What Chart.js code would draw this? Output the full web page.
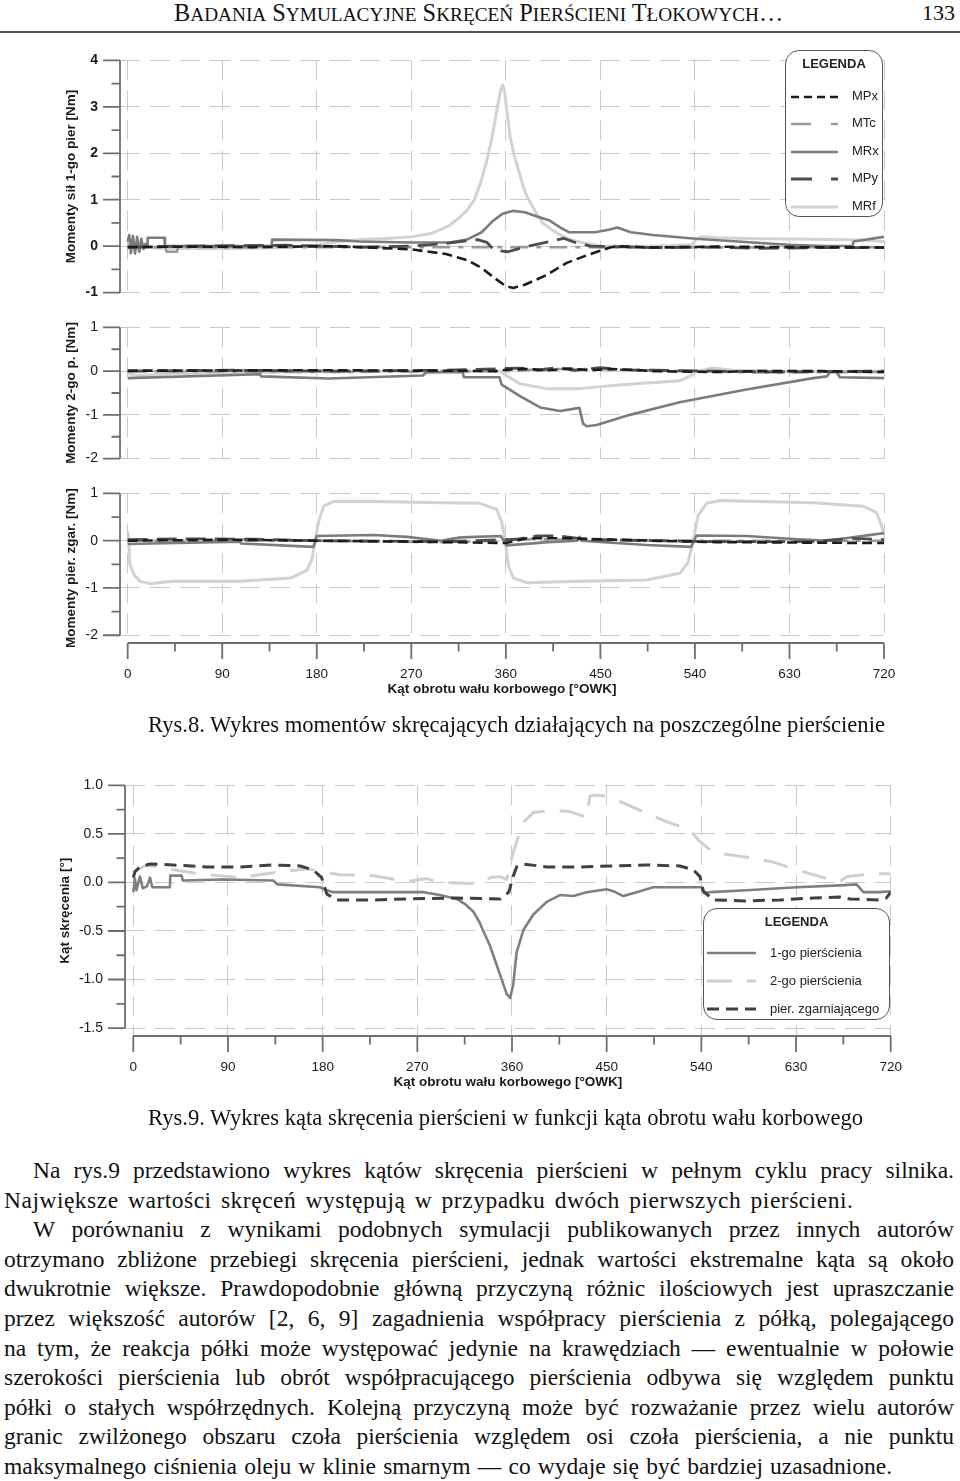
<!DOCTYPE html>
<html lang="pl">
<head>
<meta charset="utf-8">
<title>Badania symulacyjne skręceń pierścieni tłokowych – Rys.8, Rys.9</title>
<script src="https://cdn.jsdelivr.net/npm/chart.js@4.4.1/dist/chart.umd.min.js"></script>
<style>
  html, body { margin: 0; padding: 0; background: #fff; }
  body { width: 960px; height: 1481px; position: relative; overflow: hidden;
         font-family: "Liberation Serif", "Times New Roman", serif; color: #111; }
  canvas { position: absolute; left: 0; }
  .hdr { position: absolute; left: 174px; top: 1px; font-size: 24.3px; line-height: 24px; white-space: nowrap; }
  .hdr small { font-size: 19.3px; }
  .pg { position: absolute; right: 5px; top: 2px; font-size: 22px; line-height: 22px; }
  .rule { position: absolute; left: 0; top: 30.5px; width: 960px; height: 2px; background: #555; }
  .cap { position: absolute; left: 148px; font-size: 22.6px; line-height: 28.7px; white-space: nowrap; }
  .body { position: absolute; left: 4px; top: 1156px; width: 950px; font-size: 23.5px; line-height: 29.6px; }
  .ln { white-space: nowrap; }
  .j { text-align: justify; text-align-last: justify; }
  .ind { padding-left: 29px; }
  .legend { position: absolute; box-sizing: border-box; border: 1.5px solid #555; border-radius: 14px;
            background: #fff; font-family: "Liberation Sans", Arial, sans-serif; font-size: 13px; color: #222; }
  .legend .t { position: absolute; left: 0; right: 0; text-align: center; font-weight: bold; line-height: 16px; }
  .legend .it { position: absolute; line-height: 16px; white-space: nowrap; }
  .legend svg { position: absolute; left: 0; top: 0; }
</style>
</head>
<body>

<div class="hdr">B<small>ADANIA</small> S<small>YMULACYJNE</small> S<small>KRĘCEŃ</small> P<small>IERŚCIENI</small> T<small>ŁOKOWYCH</small>…</div>
<div class="pg">133</div>
<div class="rule"></div>

<canvas id="c1"></canvas>
<canvas id="c2"></canvas>
<canvas id="c3"></canvas>
<canvas id="c4"></canvas>

<div class="legend" style="left:785px;top:50px;width:98px;height:167px">
  <svg width="98" height="167">
    <line x1="5" x2="52" y1="46" y2="46" stroke="#1c1c1c" stroke-width="2.6" stroke-dasharray="8,5"/>
    <line x1="5" x2="52" y1="73" y2="73" stroke="#9a9a9a" stroke-width="2.6" stroke-dasharray="20,20,7,20"/>
    <line x1="5" x2="52" y1="101" y2="101" stroke="#7c7c7c" stroke-width="2.6"/>
    <line x1="5" x2="52" y1="128" y2="128" stroke="#4d4d4d" stroke-width="2.8" stroke-dasharray="21,19,7,20"/>
    <line x1="5" x2="52" y1="156" y2="156" stroke="#d2d2d2" stroke-width="3"/>
  </svg>
  <div class="t" style="top:5px">LEGENDA</div>
  <div class="it" style="left:66px;top:37px">MPx</div>
  <div class="it" style="left:66px;top:64px">MTc</div>
  <div class="it" style="left:66px;top:92px">MRx</div>
  <div class="it" style="left:66px;top:119px">MPy</div>
  <div class="it" style="left:66px;top:147px">MRf</div>
</div>

<div class="legend" style="left:703px;top:908px;width:187px;height:112px">
  <svg width="187" height="112">
    <line x1="3" x2="52" y1="44" y2="44" stroke="#7f7f7f" stroke-width="2.6"/>
    <line x1="3" x2="52" y1="72" y2="72" stroke="#cfcfcf" stroke-width="3" stroke-dasharray="25,15"/>
    <line x1="3" x2="52" y1="100" y2="100" stroke="#404040" stroke-width="3" stroke-dasharray="12,7"/>
  </svg>
  <div class="t" style="top:5px">LEGENDA</div>
  <div class="it" style="left:66px;top:36px">1-go pierścienia</div>
  <div class="it" style="left:66px;top:64px">2-go pierścienia</div>
  <div class="it" style="left:66px;top:92px">pier. zgarniającego</div>
</div>

<div class="cap" style="top:711px">Rys.8. Wykres momentów skręcających działających na poszczególne pierścienie</div>
<div class="cap" style="top:1104px">Rys.9. Wykres kąta skręcenia pierścieni w funkcji kąta obrotu wału korbowego</div>

<div class="body">
  <div class="ln j ind">Na rys.9 przedstawiono wykres kątów skręcenia pierścieni w pełnym cyklu pracy silnika.</div>
  <div class="ln" style="letter-spacing:0.5px;word-spacing:3px">Największe wartości skręceń występują w przypadku dwóch pierwszych pierścieni.</div>
  <div class="ln j ind">W porównaniu z wynikami podobnych symulacji publikowanych przez innych autorów</div>
  <div class="ln j">otrzymano zbliżone przebiegi skręcenia pierścieni, jednak wartości ekstremalne kąta są około</div>
  <div class="ln j">dwukrotnie większe. Prawdopodobnie główną przyczyną różnic ilościowych jest upraszczanie</div>
  <div class="ln j">przez większość autorów [2, 6, 9] zagadnienia współpracy pierścienia z półką, polegającego</div>
  <div class="ln j">na tym, że reakcja półki może występować jedynie na krawędziach — ewentualnie w połowie</div>
  <div class="ln j">szerokości pierścienia lub obrót współpracującego pierścienia odbywa się względem punktu</div>
  <div class="ln j">półki o stałych współrzędnych. Kolejną przyczyną może być rozważanie przez wielu autorów</div>
  <div class="ln j">granic zwilżonego obszaru czoła pierścienia względem osi czoła pierścienia, a nie punktu</div>
  <div class="ln" style="word-spacing:1.3px">maksymalnego ciśnienia oleju w klinie smarnym — co wydaje się być bardziej uzasadnione.</div>
</div>

<script>
// ---- ticks ----
const angleTicks = [0, 90, 180, 270, 360, 450, 540, 630, 720];
const moment1Ticks = [-1, 0, 1, 2, 3, 4];
const moment23Ticks = [-2, -1, 0, 1];
const twistTicks = [-1.5, -1.0, -0.5, 0.0, 0.5, 1.0];

// ---- Rys.8, panel 1: momenty sił 1-go pierścienia [Nm] vs kąt [°OWK] ----
const p1MPx = [[0,-0.02],[60,-0.01],[120,-0.02],[200,0.0],[221,-0.02],[270,-0.07],[303,-0.17],[323,-0.3],[337,-0.47],[350,-0.7],[360,-0.86],[367,-0.9],[378,-0.83],[398,-0.63],[418,-0.36],[439,-0.18],[459,-0.03],[466,0.0],[500,-0.03],[560,-0.01],[620,-0.02],[720,-0.03]];
const p1MTc = [[0,-0.02],[36,-0.02],[37,-0.12],[47,-0.12],[48,-0.02],[180,-0.02],[360,-0.02],[540,-0.03],[720,-0.02]];
const p1MRx = [[0,0.1],[1.5,0.24],[3,-0.15],[5,0.22],[7,-0.16],[9,0.2],[11,-0.12],[13,0.16],[15,-0.06],[17,0.05],[18.5,0.0],[19,0.18],[35,0.18],[35.5,0.0],[137,0.0],[137.5,0.14],[200,0.13],[221,0.1],[270,0.08],[306,0.08],[323,0.14],[337,0.3],[347,0.53],[357,0.7],[367,0.76],[378,0.73],[391,0.63],[401,0.56],[412,0.4],[420,0.3],[445,0.3],[459,0.36],[466,0.4],[479,0.3],[500,0.24],[541,0.16],[595,0.08],[629,0.03],[663,0.0],[690,0.01],[691,0.1],[720,0.2]];
const p1MPy = [[0,-0.02],[60,0.0],[150,0.02],[221,-0.02],[270,0.0],[303,0.06],[333,0.14],[342,0.08],[349,-0.09],[362,-0.12],[378,-0.02],[398,0.08],[415,0.17],[426,0.08],[441,0.0],[500,-0.03],[560,-0.02],[600,-0.05],[660,-0.03],[720,-0.03]];
const p1MRf = [[0,0.05],[8,-0.02],[40,-0.05],[100,-0.05],[150,-0.03],[180,0.02],[200,0.1],[221,0.14],[250,0.17],[270,0.2],[290,0.28],[306,0.44],[315,0.6],[323,0.77],[330,1.0],[336,1.37],[342,1.85],[347,2.36],[352,3.0],[355,3.35],[357,3.47],[359,3.3],[361,2.9],[364,2.36],[368,1.95],[373,1.56],[377,1.25],[381,1.03],[388,0.75],[395,0.5],[404,0.35],[412,0.24],[422,0.14],[432,0.08],[452,0.0],[500,0.0],[537,0.03],[541,0.14],[546,0.2],[560,0.18],[600,0.16],[650,0.15],[700,0.13],[720,0.1]];

// ---- Rys.8, panel 2: momenty 2-go pierścienia [Nm] ----
const p2MPx = [[0,0.01],[180,0.02],[300,0.01],[350,0.0],[360,0.03],[380,0.05],[400,0.02],[420,0.06],[440,0.02],[460,0.05],[480,0.03],[500,0.0],[560,-0.02],[600,0.0],[660,0.0],[720,-0.02]];
const p2MTc = [[0,0.0],[200,-0.02],[360,0.0],[400,0.05],[450,0.05],[520,0.0],[600,-0.03],[720,-0.02]];
const p2MRx = [[0,-0.16],[126,-0.07],[127,-0.12],[192,-0.17],[281,-0.1],[284,-0.03],[319,-0.02],[320,-0.14],[354,-0.14],[356,-0.31],[373.5,-0.57],[392.6,-0.83],[411.6,-0.91],[430,-0.84],[433.5,-1.2],[437,-1.26],[446.5,-1.23],[478,-1.0],[525.5,-0.71],[589,-0.42],[652.6,-0.16],[665.6,-0.12],[668.6,-0.02],[675,-0.02],[678,-0.14],[720,-0.16]];
const p2MPy = [[0,0.0],[100,0.02],[200,0.0],[300,0.02],[360,0.06],[375,0.07],[390,0.02],[410,0.08],[425,0.02],[450,0.08],[470,0.03],[500,0.02],[560,0.0],[620,-0.02],[720,0.0]];
const p2MRf = [[0,-0.06],[10,-0.1],[40,-0.06],[126,-0.03],[200,0.0],[280,0.0],[355,0.0],[357,-0.05],[373.5,-0.29],[398.8,-0.4],[430.6,-0.4],[462,-0.33],[494,-0.27],[525.5,-0.22],[535,-0.12],[541.6,0.0],[557.6,0.07],[576.7,0.02],[620,0.0],[720,0.0]];

// ---- Rys.8, panel 3: momenty pierścienia zgarniającego [Nm] ----
const p3MPx = [[0,0.0],[100,0.02],[180,0.0],[270,-0.02],[360,-0.05],[380,0.05],[420,0.05],[500,0.0],[560,-0.03],[720,-0.05]];
const p3MTc = [[0,0.0],[180,0.0],[300,-0.03],[360,0.0],[380,0.03],[450,0.02],[540,0.0],[650,0.0],[720,0.0]];
const p3MRx = [[0,-0.07],[106.8,-0.02],[108,-0.06],[176.8,-0.13],[180,0.1],[234,0.12],[266,0.08],[298,0.0],[317,0.07],[355,0.1],[361,-0.1],[400,-0.03],[428,0.0],[430,0.08],[432,0.0],[494,-0.09],[536.5,-0.13],[541.5,0.11],[589,0.1],[630,0.04],[665.6,0.0],[720,0.16]];
const p3MPy = [[0,0.02],[50,0.04],[120,0.03],[180,0.0],[300,-0.02],[370,0.03],[390,0.1],[410,0.1],[440,0.02],[560,-0.02],[650,-0.02],[690,0.05],[720,0.02]];
const p3MRf = [[0,0.2],[1,0.0],[2,-0.5],[6.4,-0.73],[12,-0.86],[21,-0.91],[43,-0.86],[107,-0.86],[155,-0.79],[170.6,-0.63],[175.4,-0.4],[178.5,0.0],[181.7,0.4],[186.5,0.73],[196,0.83],[234,0.83],[300,0.8],[335.4,0.79],[351.4,0.66],[356,0.4],[359.3,0.0],[362.4,-0.53],[367.2,-0.79],[380,-0.89],[430.6,-0.86],[494,-0.83],[525.5,-0.69],[533.5,-0.46],[538.3,0.0],[543,0.53],[551,0.79],[563.6,0.85],[652.6,0.8],[700,0.73],[712.7,0.6],[717.5,0.33],[720,0.13]];

// ---- Rys.9: kąt skręcenia [°] ----
const ring1 = [[0,-0.1],[1.5,0.04],[3,-0.08],[6.3,0.06],[9,-0.06],[13,-0.04],[15.9,0.05],[18,-0.05],[34.8,-0.05],[35.2,0.07],[46,0.07],[47,0.02],[85.5,0.03],[133,0.02],[136.9,-0.02],[177.5,-0.05],[183.8,-0.08],[190,-0.1],[275.7,-0.1],[291.5,-0.13],[307.4,-0.17],[315,-0.22],[323.2,-0.3],[329.6,-0.42],[332.7,-0.5],[339,-0.65],[342.2,-0.75],[348.6,-0.95],[355,-1.15],[358.2,-1.19],[361.2,-1.05],[364.4,-0.72],[370.8,-0.49],[380.3,-0.33],[393,-0.2],[405.6,-0.13],[418.3,-0.14],[431,-0.1],[450,-0.07],[456.3,-0.09],[465.8,-0.14],[478.5,-0.1],[494.3,-0.05],[540.3,-0.05],[542.5,-0.11],[548.2,-0.1],[583,-0.08],[630.6,-0.05],[671.8,-0.03],[687.6,-0.02],[694,-0.1],[709.8,-0.1],[720,-0.09]];
const ring2 = [[0,0.11],[12.7,0.18],[38,0.13],[69.7,0.08],[101.4,0.05],[133,0.1],[164.7,0.14],[180.5,0.11],[196.4,0.08],[228,0.07],[260,0.01],[279,0.04],[291.5,0.0],[323.2,-0.01],[340,0.05],[348.6,0.06],[355,0.03],[359.7,0.26],[364.4,0.42],[370.8,0.62],[380.3,0.72],[396.1,0.74],[415.1,0.73],[431,0.67],[434.1,0.89],[437.3,0.9],[450,0.89],[472.2,0.79],[503.8,0.64],[529.2,0.54],[538.7,0.42],[551.3,0.31],[583.1,0.26],[608.4,0.21],[630.6,0.13],[652.8,0.06],[671.8,0.01],[678.2,0.06],[694,0.08],[713,0.09],[720,0.09]];
const ring3 = [[0,0.05],[1.5,0.11],[6.3,0.16],[15.8,0.19],[38,0.18],[69.7,0.16],[101.4,0.16],[133,0.18],[158.4,0.17],[171,0.13],[179,0.05],[184,-0.12],[193.5,-0.18],[228.3,-0.18],[260,-0.17],[307.4,-0.16],[349,-0.17],[357,-0.1],[361,0.06],[364.4,0.16],[370.7,0.19],[393,0.16],[424.6,0.16],[456.3,0.17],[488,0.18],[519.7,0.17],[532.4,0.13],[538.7,0.06],[541.9,-0.09],[551.4,-0.18],[583,-0.19],[614.8,-0.18],[646.5,-0.16],[671.8,-0.15],[681.3,-0.17],[709.8,-0.18],[716,-0.16],[720,-0.1]];

const sans = '"Liberation Sans", Arial, sans-serif';
const gridColor = '#c9c9c9';
const gridDash = [20, 10];

const momentStyle = {
  MPx: { borderColor: '#1c1c1c', borderWidth: 2.6, borderDash: [10, 5] },
  MTc: { borderColor: '#9a9a9a', borderWidth: 2.6, borderDash: [18, 8, 5, 8] },
  MRx: { borderColor: '#7c7c7c', borderWidth: 2.6, borderDash: [] },
  MPy: { borderColor: '#4d4d4d', borderWidth: 2.8, borderDash: [20, 9] },
  MRf: { borderColor: '#d2d2d2', borderWidth: 3, borderDash: [] }
};

function pts(arr) { return arr.map(p => ({ x: p[0], y: p[1] })); }

// axis lines sit apart from the plot, with major + minor tick marks
const detachedAxes = {
  id: 'detachedAxes',
  afterDraw(chart) {
    const { ctx, chartArea, scales: { x, y } } = chart;
    const yv = y.ticks.map(t => t.value);
    ctx.save();
    ctx.strokeStyle = '#6e6e6e';
    ctx.lineWidth = 1.8;
    ctx.setLineDash([]);
    ctx.beginPath();
    const L = chartArea.left;
    ctx.moveTo(L, y.getPixelForValue(yv[yv.length - 1]));
    ctx.lineTo(L, y.getPixelForValue(yv[0]));
    yv.forEach((v, i) => {
      const py = y.getPixelForValue(v);
      ctx.moveTo(L, py); ctx.lineTo(L - 17, py);
      if (i > 0) {
        const pm = y.getPixelForValue((v + yv[i - 1]) / 2);
        ctx.moveTo(L, pm); ctx.lineTo(L - 8.5, pm);
      }
    });
    if (chart.options.plugins.detachedAxes.showX) {
      const B = chartArea.bottom;
      ctx.moveTo(x.getPixelForValue(0), B);
      ctx.lineTo(x.getPixelForValue(720), B);
      angleTicks.forEach((v, i) => {
        const px = x.getPixelForValue(v);
        ctx.moveTo(px, B); ctx.lineTo(px, B + 16);
        if (i > 0) {
          const pm = x.getPixelForValue(v - 45);
          ctx.moveTo(pm, B); ctx.lineTo(pm, B + 8.5);
        }
      });
    }
    ctx.stroke();
    ctx.restore();
  }
};

function makeChart(id, o) {
  const canvas = document.getElementById(id);
  const padTop = 20, padBottom = 20;
  const xH = o.xTitle ? 54 : 0;
  canvas.width = 960;
  canvas.height = Math.round(o.bottom - o.top + padTop + xH + padBottom);
  canvas.style.top = (o.top - padTop) + 'px';
  return new Chart(canvas, {
    type: 'line',
    data: {
      datasets: o.series.map(s => Object.assign({
        label: s.label,
        data: pts(s.data),
        pointRadius: 0,
        tension: 0,
        fill: false,
        borderJoinStyle: 'round'
      }, s.style))
    },
    options: {
      responsive: false,
      animation: false,
      events: [],
      layout: { padding: { top: padTop, bottom: padBottom, left: 0, right: 960 - o.right } },
      plugins: {
        legend: { display: false },
        tooltip: { enabled: false },
        detachedAxes: { showX: !!o.xTitle }
      },
      scales: {
        x: {
          type: 'linear', min: o.xMin, max: 720,
          afterBuildTicks: s => { s.ticks = angleTicks.map(v => ({ value: v })); },
          afterFit: s => { s.height = xH; },
          grid: { color: gridColor, lineWidth: 1, drawTicks: false },
          border: { display: false, dash: gridDash },
          ticks: { display: !!o.xTitle, padding: 23, color: '#1a1a1a', autoSkip: false, maxRotation: 0,
                   font: { family: sans, size: 13.5 } },
          title: { display: !!o.xTitle, text: o.xTitle || '', padding: 0, color: '#1a1a1a',
                   font: { family: sans, size: 13.5, weight: 'bold' } }
        },
        y: {
          type: 'linear', min: o.yMin, max: o.yMax,
          afterBuildTicks: s => { s.ticks = o.yTicks.map(v => ({ value: v })); },
          afterFit: s => { s.width = o.left; },
          grid: { color: gridColor, lineWidth: 1, drawTicks: false },
          border: { display: false, dash: gridDash },
          ticks: { padding: o.labelPad, color: '#1a1a1a', callback: o.fmt,
                   font: { family: sans, size: 14, weight: o.boldTicks ? 'bold' : 'normal' } },
          title: { display: true, text: o.yTitle, padding: { top: o.titleX - 8.1, bottom: 0 }, color: '#1a1a1a',
                   font: { family: sans, size: 13.5, weight: 'bold' } }
        }
      }
    },
    plugins: [detachedAxes]
  });
}

function momentSeries(mpx, mtc, mrx, mpy, mrf) {
  return [
    { label: 'MPx', data: mpx, style: momentStyle.MPx },
    { label: 'MPy', data: mpy, style: momentStyle.MPy },
    { label: 'MRx', data: mrx, style: momentStyle.MRx },
    { label: 'MTc', data: mtc, style: momentStyle.MTc },
    { label: 'MRf', data: mrf, style: momentStyle.MRf }
  ];
}

const intFmt = v => String(v);
const fig1 = { left: 120, right: 884, xMin: -7.33, labelPad: 22, titleX: 71.7, fmt: intFmt };

makeChart('c1', Object.assign({}, fig1, {
  top: 50, bottom: 302.7, yMin: -1, yMax: 4, yTicks: moment1Ticks, boldTicks: true,
  yTitle: 'Momenty sił 1-go pier [Nm]',
  series: momentSeries(p1MPx, p1MTc, p1MRx, p1MPy, p1MRf)
}));
makeChart('c2', Object.assign({}, fig1, {
  top: 316.7, bottom: 469, yMin: -2, yMax: 1, yTicks: moment23Ticks,
  yTitle: 'Momenty 2-go p. [Nm]',
  series: momentSeries(p2MPx, p2MTc, p2MRx, p2MPy, p2MRf)
}));
makeChart('c3', Object.assign({}, fig1, {
  top: 483.3, bottom: 643.3, yMin: -2.164, yMax: 1, yTicks: moment23Ticks,
  yTitle: 'Momenty pier. zgar. [Nm]', xTitle: 'Kąt obrotu wału korbowego [°OWK]',
  series: momentSeries(p3MPx, p3MTc, p3MRx, p3MPy, p3MRf)
}));

makeChart('c4', {
  left: 125, right: 890.7, xMin: -7.89, labelPad: 22, titleX: 65, fmt: v => v.toFixed(1),
  top: 775, bottom: 1036, yMin: -1.582, yMax: 1.0, yTicks: twistTicks,
  yTitle: 'Kąt skręcenia [°]', xTitle: 'Kąt obrotu wału korbowego [°OWK]',
  series: [
    { label: 'pier. zgarniającego', data: ring3, style: { borderColor: '#404040', borderWidth: 3, borderDash: [12, 7] } },
    { label: '1-go pierścienia', data: ring1, style: { borderColor: '#7f7f7f', borderWidth: 2.6, borderDash: [] } },
    { label: '2-go pierścienia', data: ring2, style: { borderColor: '#cfcfcf', borderWidth: 3, borderDash: [25, 15] } }
  ]
});
</script>
</body>
</html>
